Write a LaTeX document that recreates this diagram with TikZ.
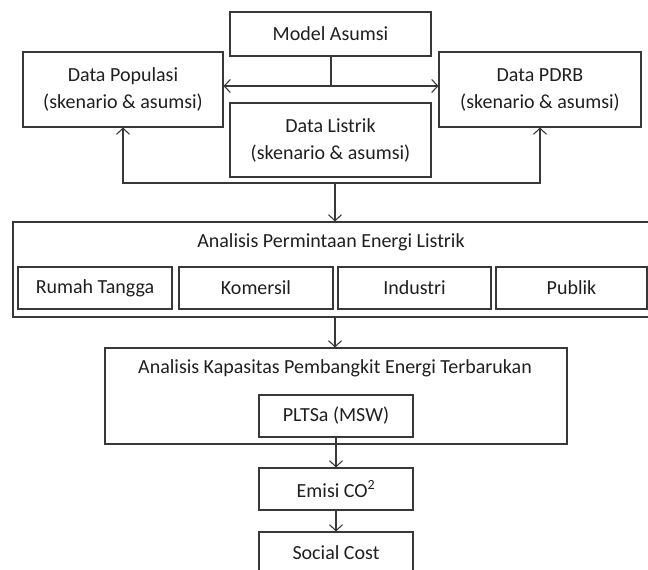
\documentclass[tikz,border=0pt]{standalone}
\usepackage{fontspec}
\setmainfont{Carlito}
\usetikzlibrary{arrows.meta}
\definecolor{linecol}{gray}{0.22}
\definecolor{txtcol}{gray}{0.12}
\tikzset{
  box/.style={draw=linecol, line width=1.1pt, rectangle, inner sep=0pt, align=center, text=txtcol,
    font=\fontsize{20}{27}\selectfont},
  lbl/.style={inner sep=0pt, text=txtcol, font=\fontsize{20}{27}\selectfont},
  conn/.style={draw=linecol, line width=1.1pt},
  arr/.style={conn, -{Straight Barb[length=6pt, width=13pt, line width=1.1pt]}},
  darr/.style={conn, {Straight Barb[length=6pt, width=13pt, line width=1.1pt]}-{Straight Barb[length=6pt, width=13pt, line width=1.1pt]}}
}
\begin{document}
\begin{tikzpicture}[x=1pt,y=-1pt]
\useasboundingbox (0,0) rectangle (648,570);
\clip (0,0) rectangle (648,570);
% top boxes
\node[box, minimum width=201pt, minimum height=44pt] (ma) at (330.5,34) {Model Asumsi};
\node[box, minimum width=200pt, minimum height=75pt] (dp) at (123,89.5) {Data Populasi\\(skenario \& asumsi)};
\node[box, minimum width=202pt, minimum height=75pt] (dpdrb) at (540,89.5) {Data PDRB\\(skenario \& asumsi)};
\node[box, minimum width=201pt, minimum height=74pt] (dl) at (330.5,140) {Data Listrik\\(skenario \& asumsi)};
% demand analysis
\node[box, minimum width=637pt, minimum height=95pt] (apel) at (331.5,269.5) {};
\node[lbl] (apelt) at (331,242) {Analisis Permintaan Energi Listrik};
\node[box, minimum width=154pt, minimum height=42pt] (rt) at (95,288) {Rumah Tangga};
\node[box, minimum width=154pt, minimum height=42pt] (kom) at (256,288) {Komersil};
\node[box, minimum width=153pt, minimum height=42pt] (ind) at (414.5,288) {Industri};
\node[box, minimum width=151pt, minimum height=42pt] (pub) at (571.5,288) {Publik};
% capacity analysis
\node[box, minimum width=462pt, minimum height=96pt] (akap) at (336,396) {};
\node[lbl] (akapt) at (335,368) {Analisis Kapasitas Pembangkit Energi Terbarukan};
\node[box, minimum width=154pt, minimum height=42pt] (plt) at (336,416) {PLTSa (MSW)};
\node[box, minimum width=154pt, minimum height=42pt] (em) at (336,489) {Emisi CO\textsuperscript{2}};
\node[box, minimum width=154pt, minimum height=42pt] (sc) at (336,553) {Social Cost};
% connectors
\coordinate (j1) at (331,86);
\coordinate (br) at (335,183);
\draw[conn] (ma.south -| j1) -- (j1);
\draw[darr] (dp.east |- j1) -- (dpdrb.west |- j1);
\draw[darr] (dp.south) |- (br) -| (dpdrb.south);
\draw[arr] (br) -- (br |- apel.north);
\draw[arr] (apel.south -| br) -- (akap.north -| br);
\draw[arr] (plt) -- (em);
\draw[arr] (em) -- (sc);
\end{tikzpicture}
\end{document}
